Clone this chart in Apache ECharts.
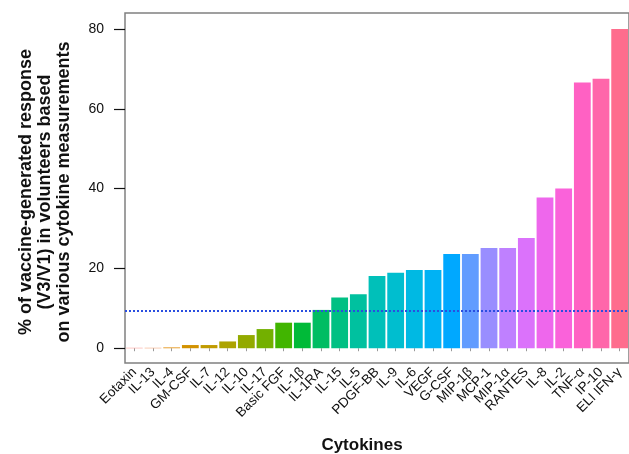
<!DOCTYPE html>
<html>
<head>
<meta charset="utf-8">
<script src="https://cdn.jsdelivr.net/npm/echarts@6/dist/echarts.min.js"></script>
<style>
  html, body { margin: 0; padding: 0; background: #fff; }
  #chart { width: 629px; height: 454px; }
</style>
</head>
<body>
<div id="chart"></div>
<script>
// Cytokines, sorted by response
const cytokines = [
  "Eotaxin", "IL-13", "IL-4", "GM-CSF", "IL-7", "IL-12", "IL-10", "IL-17",
  "Basic FGF", "IL-1β", "IL-1RA", "IL-15", "IL-5", "PDGF-BB", "IL-9", "IL-6",
  "VEGF", "G-CSF", "MIP-1β", "MCP-1", "MIP-1α", "RANTES", "IL-8", "IL-2",
  "TNF-α", "IP-10", "ELI IFN-γ"
];

// % of vaccine-generated response (V3/V1)
const responses = [
  0.1, 0.1, 0.2, 0.8, 0.8, 1.7, 3.3, 4.8,
  6.4, 6.4, 9.6, 12.7, 13.5, 18.1, 18.9, 19.6,
  19.6, 23.6, 23.6, 25.1, 25.1, 27.6, 37.8, 40.0,
  66.6, 67.5, 80.0
];

const yTicks = [0, 20, 40, 60, 80];
const thresholdValue = 9.5;

// R hcl() -> hex, used for the ggplot style hue palette
function hcl(h, c, l) {
  const Xn = 95.047, Yn = 100.0, Zn = 108.883;
  const un = 4 * Xn / (Xn + 15 * Yn + 3 * Zn);
  const vn = 9 * Yn / (Xn + 15 * Yn + 3 * Zn);
  const rad = h * Math.PI / 180;
  const U = c * Math.cos(rad), V = c * Math.sin(rad);
  const Y = Yn * (l > 7.999592 ? Math.pow((l + 16) / 116, 3) : l / 903.3);
  const u = U / (13 * l) + un, v = V / (13 * l) + vn;
  const X = 9 * Y * u / (4 * v);
  const Z = -X / 3 - 5 * Y + 3 * Y / v;
  const gt = (x) => (x > 0.00304 ? 1.055 * Math.pow(x, 1 / 2.4) - 0.055 : 12.92 * x);
  const ch = (x) => {
    const n = Math.round(255 * Math.min(1, Math.max(0, gt(x / 100))));
    return n.toString(16).padStart(2, "0");
  };
  const r = 3.240479 * X - 1.53715 * Y - 0.498535 * Z;
  const g = -0.969256 * X + 1.875992 * Y + 0.041556 * Z;
  const b = 0.055648 * X - 0.204043 * Y + 1.057311 * Z;
  return "#" + ch(r) + ch(g) + ch(b);
}

const n = cytokines.length;
const barColors = cytokines.map((_, i) => hcl(15 + i * 360 / n, 100, 65));

const chart = echarts.init(document.getElementById("chart"));

const option = {
  animation: false,
  textStyle: { fontFamily: "Liberation Sans, Arial, sans-serif" },
  grid: {
    left: 125,
    right: -2,
    top: 13,
    bottom: 91,
    show: true,
    borderColor: "#808080",
    borderWidth: 1.5,
    backgroundColor: "transparent",
  },
  xAxis: {
    type: "category",
    data: cytokines,
    axisLine: { show: false },
    axisTick: {
      show: true,
      alignWithLabel: true,
      length: 3,
      lineStyle: { color: "#999" },
    },
    axisLabel: {
      interval: 0,
      rotate: 45,
      margin: 7,
      fontSize: 13.5,
      color: "#111",
    },
  },
  yAxis: {
    type: "value",
    min: -3.7,
    max: 84,
    axisLine: { show: false },
    splitLine: { show: false },
    axisTick: {
      show: true,
      length: 11,
      customValues: yTicks,
      lineStyle: { color: "#111", width: 1.2 },
    },
    axisLabel: {
      customValues: yTicks,
      margin: 21,
      fontSize: 14,
      color: "#111",
    },
  },
  series: [
    {
      type: "bar",
      data: responses.map((v, i) => ({
        value: v,
        itemStyle: { color: barColors[i] },
      })),
      barCategoryGap: "10%",
      silent: true,
      markLine: {
        silent: true,
        symbol: ["none", "none"],
        label: { show: false },
        lineStyle: { type: [2, 2], color: "#2a4ee0", width: 2 },
        data: [{ yAxis: thresholdValue }],
      },
    },
  ],
  graphic: [
    {
      type: "text",
      x: 45,
      y: 192,
      rotation: Math.PI / 2,
      style: {
        text: "% of vaccine-generated response\n(V3/V1) in volunteers based\non various cytokine measurements",
        font: "bold 18px Liberation Sans, Arial, sans-serif",
        lineHeight: 19,
        align: "center",
        verticalAlign: "middle",
        fill: "#111",
      },
    },
    {
      type: "text",
      x: 362,
      y: 445,
      style: {
        text: "Cytokines",
        font: "bold 17px Liberation Sans, Arial, sans-serif",
        align: "center",
        verticalAlign: "middle",
        fill: "#111",
      },
    },
  ],
};

chart.setOption(option);
</script>
</body>
</html>
